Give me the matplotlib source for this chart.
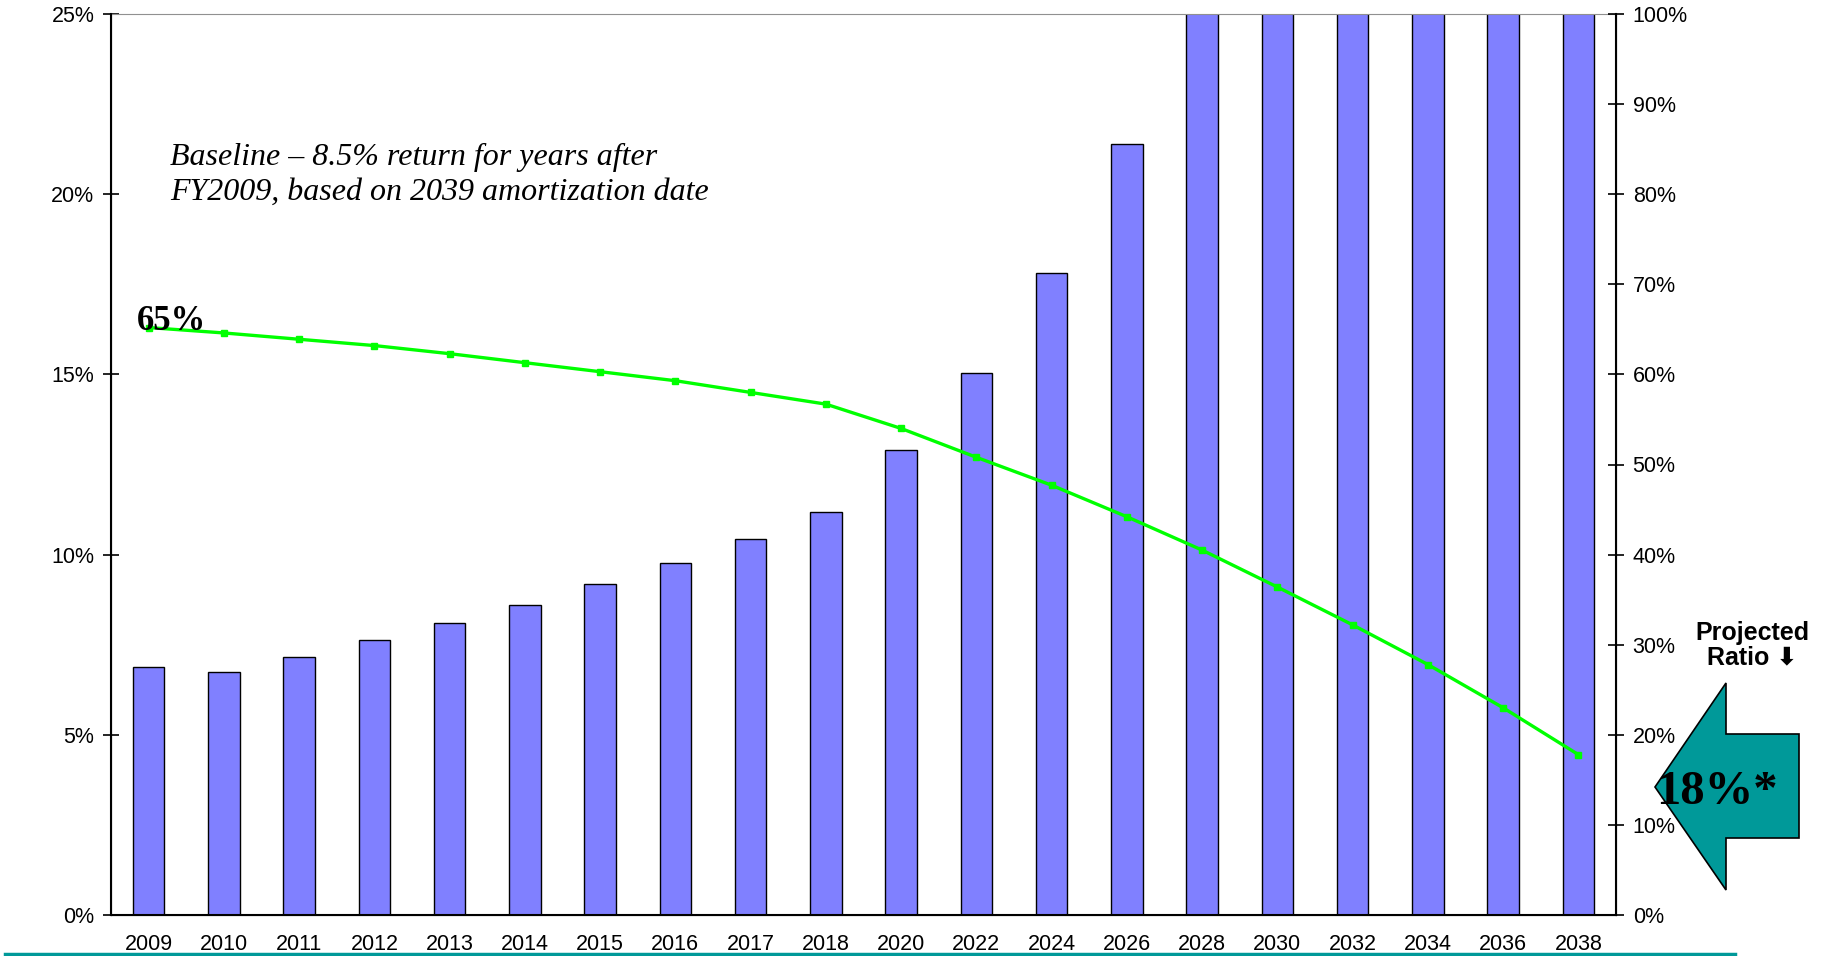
import matplotlib
matplotlib.use("Agg")
import matplotlib.pyplot as plt
from matplotlib.patches import Polygon
from matplotlib.lines import Line2D
import numpy as np

# datos
years = ["2009", "2010", "2011", "2012", "2013", "2014", "2015", "2016", "2017", "2018",
         "2020", "2022", "2024", "2026", "2028", "2030", "2032", "2034", "2036", "2038"]
# barras, eje izquierdo (%), las ultimas se salen del grafico
contrib = [6.87, 6.74, 7.17, 7.62, 8.11, 8.59, 9.18, 9.76, 10.44, 11.19,
           12.9, 15.05, 17.8, 21.4, 26.5, 31.0, 36.0, 42.0, 49.0, 57.0]
# linea verde, eje derecho (%)
ratio = [65.2, 64.6, 63.9, 63.2, 62.3, 61.3, 60.3, 59.3, 58.0, 56.7,
         54.0, 50.8, 47.7, 44.2, 40.5, 36.4, 32.2, 27.8, 23.0, 17.8]
left_ticks = [0, 5, 10, 15, 20, 25]
right_ticks = [0, 10, 20, 30, 40, 50, 60, 70, 80, 90, 100]

W, H = 1830, 956
fig = plt.figure(figsize=(W / 100, H / 100), dpi=100)
ax = fig.add_axes([111 / W, 1 - 915 / H, (1616 - 111) / W, (915 - 14) / H])

x = np.arange(len(years))
ax.bar(x, contrib, width=0.42, color="#8080ff", edgecolor="black", linewidth=1.0, zorder=2)
ax.set_xlim(-0.5, len(years) - 0.5)
ax.set_ylim(0, 25)
ax.set_yticks(left_ticks)
ax.set_yticklabels([f"{t}%" for t in left_ticks])
ax.set_xticks(x)
ax.set_xticklabels(years)

for t in ax.get_yticklabels() + ax.get_xticklabels():
    t.set_fontfamily("Liberation Sans")
    t.set_fontsize(15.5)
ax.tick_params(axis="y", direction="inout", length=12, width=1.2, pad=6)
ax.tick_params(axis="x", length=0, pad=14)
ax.spines["top"].set_color("#909090")
ax.spines["left"].set_linewidth(1.5)
ax.spines["bottom"].set_linewidth(1.5)

ax2 = ax.twinx()
ax2.plot(x, ratio, color="#00ff00", linewidth=2.4, marker="s", markersize=5, zorder=3)
ax2.set_ylim(0, 100)
ax2.set_yticks(right_ticks)
ax2.set_yticklabels([f"{t}%" for t in right_ticks])
for t in ax2.get_yticklabels():
    t.set_fontfamily("Liberation Sans")
    t.set_fontsize(15.5)
ax2.tick_params(axis="y", direction="inout", length=12, width=1.2, pad=6)
ax2.spines["right"].set_linewidth(1.5)
ax2.spines["top"].set_visible(False)

# textos
ax2.text(x[0] - 0.15, ratio[0] - 0.3, "65%", fontsize=25, fontweight="bold",
         family="Liberation Serif", ha="left", va="baseline")
fig.text(170 / W, 1 - 200 / H, "Baseline \u2013 8.5% return for years after\nFY2009, based on 2039 amortization date",
         fontsize=23, style="italic", family="Liberation Serif", ha="left", va="baseline",
         linespacing=1.25)

# flecha verde azulada a la derecha
pts = [(1655, 787), (1726, 683), (1726, 734), (1799, 734), (1799, 838), (1726, 838), (1726, 890)]
pts = [(px / W, 1 - py / H) for px, py in pts]
fig.patches.append(Polygon(pts, closed=True, facecolor="#009999", edgecolor="black",
                           linewidth=1.2, transform=fig.transFigure))
fig.text(1717 / W, 1 - 804 / H, "18%*", fontsize=35, fontweight="bold",
         family="Liberation Serif", ha="center", va="baseline")
fig.text(1752 / W, 1 - 645 / H, "Projected\nRatio \u2b07", fontsize=18, fontweight="bold",
         family=["Liberation Sans", "DejaVu Sans"], ha="center", va="center", linespacing=1.05)

# linea de abajo
fig.lines.append(Line2D([5 / W, 1735 / W], [1 - 954 / H, 1 - 954 / H], color="#009999",
                        linewidth=2.5, transform=fig.transFigure))

fig.savefig("out.png", dpi=100)
